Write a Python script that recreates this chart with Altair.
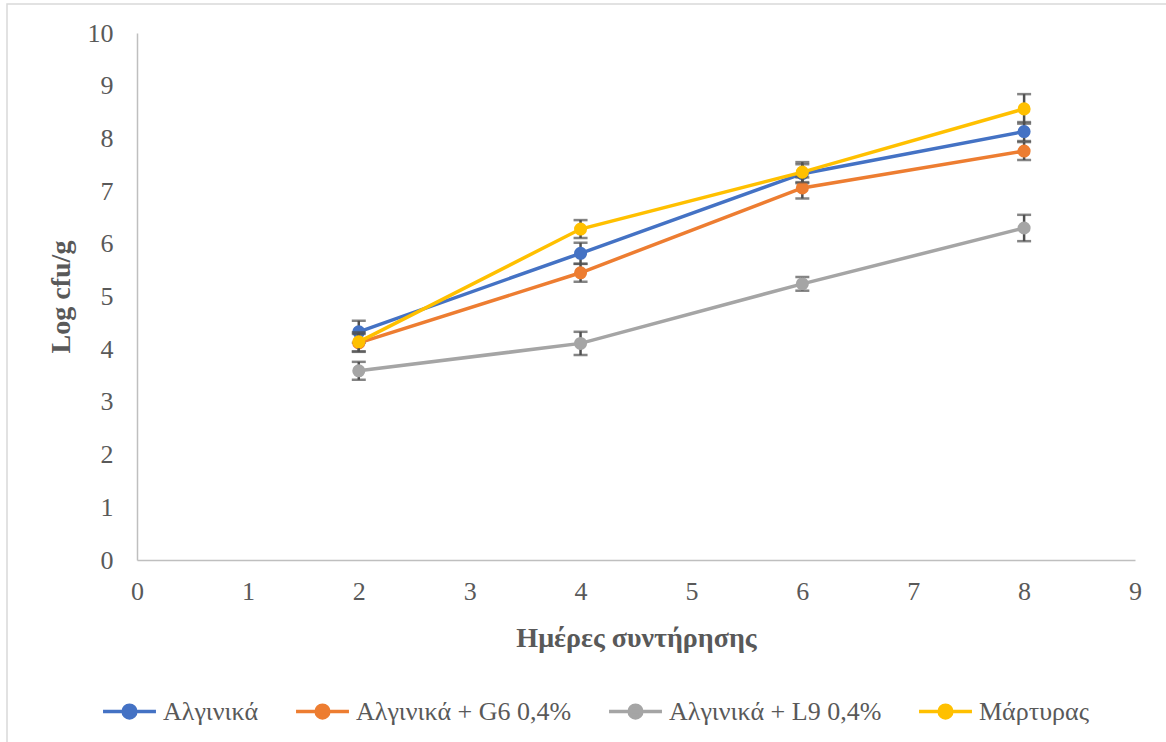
import altair as alt
import pandas as pd

days = [2, 4, 6, 8]
series_names = ["Αλγινικά", "Αλγινικά + G6 0,4%", "Αλγινικά + L9 0,4%", "Μάρτυρας"]
colors = ["#4472C4", "#ED7D31", "#A5A5A5", "#FFC000"]
values = {
    "Αλγινικά": [4.33, 5.82, 7.33, 8.13],
    "Αλγινικά + G6 0,4%": [4.12, 5.45, 7.06, 7.76],
    "Αλγινικά + L9 0,4%": [3.59, 4.11, 5.24, 6.30],
    "Μάρτυρας": [4.14, 6.28, 7.36, 8.56],
}
errors = {
    "Αλγινικά": [0.21, 0.20, 0.18, 0.18],
    "Αλγινικά + G6 0,4%": [0.17, 0.17, 0.20, 0.17],
    "Αλγινικά + L9 0,4%": [0.17, 0.22, 0.13, 0.25],
    "Μάρτυρας": [0.18, 0.17, 0.19, 0.28],
}
x_ticks = list(range(0, 10))
y_ticks = list(range(0, 11))

rows = []
for si, s in enumerate(series_names):
    for d, v, e in zip(days, values[s], errors[s]):
        rows.append({"day": d, "value": v, "lo": v - e, "hi": v + e, "series": s, "order": si})
df = pd.DataFrame(rows)

FONT = "Times New Roman, Liberation Serif, DejaVu Serif, serif"
LABEL_COLOR = "#595959"
ERR_COLOR = "#505050"

xscale = alt.Scale(domain=[0, 9], nice=False)
yscale = alt.Scale(domain=[0, 10], nice=False)
cscale = alt.Scale(domain=series_names, range=colors)

legend_symbol = "M-1,0L1,0M-0.24,0A0.24,0.24 0 1,1 0.24,0A0.24,0.24 0 1,1 -0.24,0Z"

xaxis = alt.Axis(values=x_ticks, format="d", title="Ημέρες συντήρησης", titlePadding=20,
                 labelPadding=18, labelFlush=False)
yaxis = alt.Axis(values=y_ticks, format="d", title="Log cfu/g", titlePadding=12,
                 labelPadding=24, labelFlush=False)

legend_layer = alt.Chart(df).mark_line(strokeWidth=3.5, opacity=0).encode(
    x=alt.X("day:Q", scale=xscale, axis=xaxis),
    y=alt.Y("value:Q", scale=yscale, axis=yaxis),
    color=alt.Color("series:N", scale=cscale,
                    legend=alt.Legend(title=None, orient="none", legendX=-36, legendY=650,
                                      direction="horizontal", columns=4, symbolType=legend_symbol,
                                      symbolSize=2800, symbolStrokeWidth=3.5, symbolOpacity=1,
                                      labelOffset=5, columnPadding=30, labelLimit=400,
                                      labelFont=FONT, labelFontSize=26, labelColor=LABEL_COLOR)),
    detail="series:N",
)

border = alt.Chart(pd.DataFrame({"a": [0]})).mark_rect(fill=None, stroke="#D9D9D9", strokeWidth=1.5).encode(
    x=alt.value(-130), x2=alt.value(1200), y=alt.value(-29), y2=alt.value(800)
)

series_layers = []
for si, s in enumerate(series_names):
    sub = df[df.series == s]
    c = alt.Chart(sub)
    e = c.mark_errorbar(ticks=alt.MarkConfig(size=14, color=ERR_COLOR, strokeWidth=2.5),
                        color=ERR_COLOR, thickness=2.5).encode(
        x=alt.X("day:Q", scale=xscale, axis=xaxis),
        y=alt.Y("lo:Q", scale=yscale, axis=yaxis),
        y2="hi:Q")
    l = c.mark_line(strokeWidth=3.5).encode(
        x=alt.X("day:Q", scale=xscale, axis=xaxis),
        y=alt.Y("value:Q", scale=yscale, axis=yaxis),
        color=alt.Color("series:N", scale=cscale, legend=None))
    p = c.mark_point(filled=True, size=170, opacity=1).encode(
        x=alt.X("day:Q", scale=xscale, axis=xaxis),
        y=alt.Y("value:Q", scale=yscale, axis=yaxis),
        color=alt.Color("series:N", scale=cscale, legend=None))
    series_layers += [e, l, p]

chart = alt.layer(border, legend_layer, *series_layers).properties(
    width=998, height=527,
    padding={"left": 137, "top": 33, "right": 31, "bottom": 182},
    autosize=alt.AutoSizeParams(type="none"),
    background="white",
).configure_view(stroke=None).configure_axis(
    grid=False, ticks=False, domainColor="#BFBFBF", domainWidth=1.5,
    labelFont=FONT, labelFontSize=26, labelColor=LABEL_COLOR,
    titleFont=FONT, titleFontSize=28, titleColor=LABEL_COLOR, titleFontWeight="bold",
).configure_legend(
    labelFont=FONT, labelFontSize=26, labelColor=LABEL_COLOR,
)

chart.save("out.html", embed_options={"renderer": "svg", "actions": False})
